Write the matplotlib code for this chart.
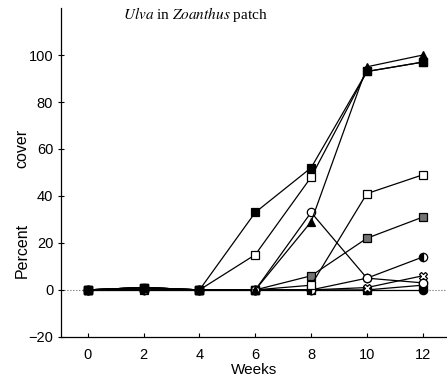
import matplotlib.pyplot as plt

plt.rcParams['font.family'] = ['Liberation Sans', 'DejaVu Sans']
plt.rcParams['mathtext.fontset'] = 'stix'

weeks = [0, 2, 4, 6, 8, 10, 12]

filled_square = [0, 1, 0, 33, 52, 93, 97]
open_square_a = [0, 1, 0, 15, 48, 93, 97]
filled_triangle = [0, 1, 0, 0, 29, 95, 100]
open_circle = [0, 1, 0, 0, 33, 5, 3]
open_square_b = [0, 1, 0, 0, 2, 41, 49]
hatched_square = [0, 1, 0, 0, 6, 22, 31]
half_circle = [0, 0, 0, 0, 0, 5, 14]
hourglass = [0, 0, 0, 0, 0, 1, 6]
filled_square_b = [0, 0, 0, 0, 0, 0, 2]
filled_circle = [0, 0, 0, 0, 0, 0, 0]

series = [
    (filled_circle, dict(marker='o', mfc='k')),
    (filled_square_b, dict(marker='s', mfc='k')),
    (hourglass, dict(marker='X', mfc='w')),
    (half_circle, dict(marker='o', mfc='k', fillstyle='left', markerfacecoloralt='w')),
    (hatched_square, dict(marker='s', mfc='0.45')),
    (open_square_b, dict(marker='s', mfc='w')),
    (open_circle, dict(marker='o', mfc='w')),
    (filled_triangle, dict(marker='^', mfc='k')),
    (open_square_a, dict(marker='s', mfc='w')),
    (filled_square, dict(marker='s', mfc='k')),
]

fig = plt.figure(figsize=(4.47, 3.85), dpi=100)
ax = fig.add_axes([0.136, 0.125, 0.864, 0.854])

# dotted zero reference line
ax.axhline(0, ls=':', color='0.4', lw=0.8, zorder=1)
for vals, style in series:
    ax.plot(weeks, vals, color='k', lw=0.9, ms=6, mec='k', mew=0.9, zorder=3, **style)

ax.set_xlim(-0.97, 12.87)
ax.set_ylim(-20, 120)
ax.set_xticks(weeks)
ax.set_yticks([-20, 0, 20, 40, 60, 80, 100])
ax.spines[['top', 'right']].set_visible(False)
ax.spines[['left', 'bottom']].set_linewidth(0.9)
ax.tick_params(axis='y', direction='inout', length=5, width=0.8, labelsize=10.5, pad=3)
ax.tick_params(axis='x', direction='in', length=3, width=0.8, labelsize=10.5, pad=8)

ax.set_xlabel('Weeks', fontsize=11, labelpad=1)
fig.text(22 / 447, 1 - 250 / 385, 'Percent', rotation=90, ha='center', va='center', fontsize=11.5)
fig.text(22 / 447, 1 - 148 / 385, 'cover', rotation=90, ha='center', va='center', fontsize=11.5)

fig.text(195 / 447, 1 - 15 / 385, r'$\mathit{Ulva}$ in $\mathit{Zoanthus}$ patch',
         family='Liberation Serif', ha='center', va='center', fontsize=11)

fig.savefig('out.png', dpi=100)
